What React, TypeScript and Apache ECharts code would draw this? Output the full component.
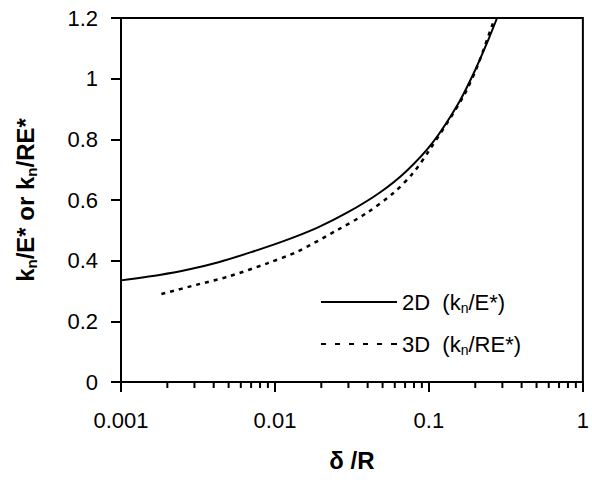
import React, { useEffect, useRef } from "react";
import * as echarts from "echarts";

// δ/R values and stiffness for the 2D curve (kn/E*)
const x2D = [0.001, 0.00178, 0.00265, 0.0043, 0.007, 0.0116, 0.0189, 0.0294, 0.0478, 0.0713, 0.106, 0.156, 0.2, 0.243, 0.277];
const y2D = [0.335, 0.353, 0.369, 0.395, 0.428, 0.466, 0.509, 0.558, 0.624, 0.695, 0.79, 0.92, 1.029, 1.128, 1.2];

// δ/R values and stiffness for the 3D curve (kn/RE*)
const x3D = [0.00183, 0.00307, 0.005, 0.009, 0.014, 0.0254, 0.0394, 0.0588, 0.0789, 0.1, 0.165, 0.206, 0.261, 0.27];
const y3D = [0.29, 0.32, 0.348, 0.392, 0.43, 0.501, 0.557, 0.623, 0.689, 0.762, 0.936, 1.04, 1.184, 1.2];

const xTickLabels = ["0.001", "0.01", "0.1", "1"];
const xMinorTicks = [
  0.002, 0.003, 0.004, 0.005, 0.006, 0.007, 0.008, 0.009,
  0.02, 0.03, 0.04, 0.05, 0.06, 0.07, 0.08, 0.09,
  0.2, 0.3, 0.4, 0.5, 0.6, 0.7, 0.8, 0.9,
];
const seriesNames = ["2D", "3D"];
const legendTexts = ["2D  ({a|k}{s|n}{a|/E*)}", "3D  ({a|k}{s|n}{a|/RE*)}"];

const FONT = "'Liberation Sans', Arial, Helvetica, sans-serif";

const SOLID_ICON = "path://M0,0 H76 V2 H0 Z";
const DASH_ICON =
  "path://M0,0 H5 V2 H0 Z M14,0 H19 V2 H14 Z M28,0 H33 V2 H28 Z M42,0 H47 V2 H42 Z M56,0 H61 V2 H56 Z M70,0 H76 V2 H70 Z";

export default function App() {
  const ref = useRef<HTMLDivElement>(null);
  useEffect(() => {
    document.body.style.margin = "0";
    if (!ref.current) return;
    const chart = echarts.init(ref.current, undefined, { renderer: "svg" });
    const richLegend = {
      a: { fontSize: 22, fontFamily: FONT, color: "#000", lineHeight: 26 },
      s: { fontSize: 14, fontFamily: FONT, color: "#000", lineHeight: 12, verticalAlign: "bottom" },
    };
    const richName = {
      a: { fontSize: 24, fontFamily: FONT, fontWeight: "bold", color: "#000", lineHeight: 28 },
      s: { fontSize: 15, fontFamily: FONT, fontWeight: "bold", color: "#000", lineHeight: 12, verticalAlign: "bottom" },
    };
    chart.setOption({
      animation: false,
      backgroundColor: "#fff",
      grid: {
        left: 121,
        top: 18,
        right: 2,
        bottom: 102,
        show: true,
        borderColor: "#000",
        borderWidth: 2,
        containLabel: false,
      },
      legend: {
        data: [
          { name: seriesNames[0], icon: SOLID_ICON },
          { name: seriesNames[1], icon: DASH_ICON },
        ],
        orient: "vertical",
        left: 316,
        top: 286,
        itemWidth: 76,
        itemHeight: 2,
        itemGap: 18,
        itemStyle: { color: "#000", borderWidth: 0 },
        formatter: (name: string) => legendTexts[seriesNames.indexOf(name)],
        textStyle: { fontSize: 22, fontFamily: FONT, color: "#000", rich: richLegend },
        selectedMode: false,
      },
      xAxis: {
        type: "log",
        logBase: 10,
        min: 0.001,
        max: 1,
        name: "δ /R",
        nameLocation: "middle",
        nameGap: 66,
        nameTextStyle: { fontSize: 24, fontWeight: "bold", fontFamily: FONT, color: "#000" },
        axisLine: { show: true, lineStyle: { color: "#000", width: 2 } },
        axisTick: { show: true, inside: false, length: 10, lineStyle: { color: "#000", width: 2 } },
        axisLabel: {
          fontSize: 22,
          fontFamily: FONT,
          color: "#000",
          margin: 27,
          formatter: (v: number) => {
            const i = Math.round(Math.log10(v)) + 3;
            return xTickLabels[i] ?? "";
          },
        },
        splitLine: { show: false },
        minorTick: { show: false },
      },
      yAxis: {
        type: "value",
        min: 0,
        max: 1.2,
        interval: 0.2,
        name: "{a|k}{s|n}{a|/E* or k}{s|n}{a|/RE*}",
        nameLocation: "middle",
        nameRotate: 90,
        nameGap: 82,
        nameTextStyle: { rich: richName, fontSize: 24, fontFamily: FONT, fontWeight: "bold", color: "#000" },
        axisLine: { show: true, lineStyle: { color: "#000", width: 2 } },
        axisTick: { show: true, inside: false, length: 10, lineStyle: { color: "#000", width: 2 } },
        axisLabel: { fontSize: 22, fontFamily: FONT, color: "#000", margin: 23 },
        splitLine: { show: false },
      },
      series: [
        {
          name: "2D",
          type: "line",
          data: x2D.map((x, i) => [x, y2D[i]]),
          showSymbol: false,
          symbol: "none",
          smooth: 0.3,
          lineStyle: { color: "#000", width: 2, type: "solid" },
          itemStyle: { color: "#000" },
        },
        {
          name: "3D",
          type: "line",
          data: x3D.map((x, i) => [x, y3D[i]]),
          showSymbol: false,
          symbol: "none",
          smooth: 0.3,
          lineStyle: { color: "#000", width: 2.5, type: [4, 5] },
          itemStyle: { color: "#000" },
        },
        {
          name: "minorTicks",
          type: "custom",
          silent: true,
          clip: false,
          data: xMinorTicks.map((v) => [v, 0]),
          renderItem: (_params: any, api: any) => {
            const p = api.coord([api.value(0), 0]);
            return {
              type: "line",
              shape: { x1: p[0], y1: p[1], x2: p[0], y2: p[1] + 6 },
              style: { stroke: "#000", lineWidth: 2 },
            };
          },
        },
      ],
    });
    return () => chart.dispose();
  }, []);
  return <div ref={ref} style={{ width: 592, height: 484 }} />;
}
